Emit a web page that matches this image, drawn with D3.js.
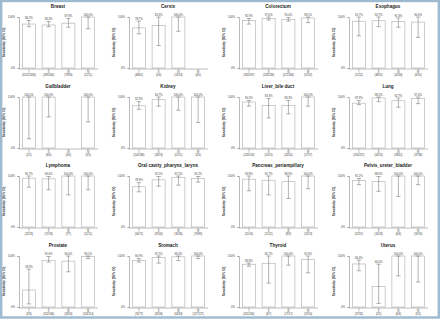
<!DOCTYPE html>
<html>
<head>
<meta charset="utf-8">
<script src="https://cdn.jsdelivr.net/npm/d3@7"></script>
<style>
  body { margin: 0; background: #fff; }
  svg { display: block; font-family: "Liberation Sans", Arial, sans-serif; }
</style>
</head>
<body>
<script>
var W = 440, H = 319;

// panel titles, left to right, top to bottom
var titles = ["Breast", "Cervix", "Colorectum", "Esophagus",
  "Gallbladder", "Kidney", "Liver_bile duct", "Lung",
  "Lymphoma", "Oral cavity_pharynx_larynx", "Pancreas_periampillary", "Pelvis_ureter_bladder",
  "Prostate", "Stomach", "Thyroid", "Uterus"];

var stages = ["I", "II", "III", "IV"];

// sensitivity (%) per stage, null = no cases
var sens = [
  [86.2, 84.4, 87.8, 100.0],
  [78.7, 83.3, 100.0, null],
  [92.9, 97.0, 95.4, 98.1],
  [91.7, 92.7, 91.3, 90.0],
  [100.0, 100.0, null, 100.0],
  [82.8, 94.7, 100.0, 100.0],
  [90.2, 83.3, 83.3, 100.0],
  [87.9, 98.2, 92.7, 97.4],
  [95.7, 94.4, 100.0, 100.0],
  [78.9, 92.5, 97.2, 95.2],
  [93.8, 91.7, 88.9, 100.0],
  [91.2, 88.9, 100.0, 100.0],
  [33.3, 91.6, 90.0, 99.1],
  [90.9, 97.2, 98.4, 100.0],
  [83.8, 85.7, 100.0, 92.9],
  [84.4, 40.0, 100.0, 100.0]
];

// lower 95% CI (%)
var lower = [
  [81, 81, 80, 77],
  [67, 44, 72, null],
  [86, 94, 92, 89],
  [63, 81, 80, 60],
  [18, 61, null, 51],
  [76, 82, 74, 50],
  [82, 59, 67, 82],
  [85, 91, 80, 87],
  [78, 73, 63, 73],
  [69, 80, 82, 88],
  [71, 63, 56, 75],
  [83, 70, 60, 83],
  [6, 88, 69, 95],
  [88, 86, 91, 95],
  [80, 47, 82, 67],
  [71, 7, 61, 49]
];

// upper 95% CI (%)
var upper = [
  [93, 91, 97, 100],
  [92, 100, 100, null],
  [97, 100, 99, 100],
  [100, 100, 98, 100],
  [100, 100, null, 100],
  [91, 100, 100, 100],
  [93, 97, 93, 100],
  [93, 100, 98, 100],
  [100, 99, 100, 100],
  [87, 99, 100, 99],
  [100, 100, 100, 100],
  [95, 99, 100, 100],
  [74, 99, 100, 100],
  [95, 100, 100, 100],
  [86, 100, 100, 100],
  [92, 84, 100, 100]
];

// detected / total per stage
var counts = [
  ["(1152/1336)", "(299/354)", "(79/90)", "(11/11)"],
  ["(48/61)", "(5/6)", "(13/13)", "(0/0)"],
  ["(183/197)", "(226/233)", "(271/284)", "(51/52)"],
  ["(11/12)", "(38/41)", "(42/46)", "(9/10)"],
  ["(2/2)", "(6/6)", "(0/0)", "(5/5)"],
  ["(154/186)", "(18/19)", "(11/11)", "(5/5)"],
  ["(129/143)", "(10/12)", "(20/24)", "(17/17)"],
  ["(226/257)", "(54/55)", "(38/41)", "(37/38)"],
  ["(22/23)", "(17/18)", "(7/7)", "(11/11)"],
  ["(56/71)", "(37/40)", "(35/36)", "(79/83)"],
  ["(15/16)", "(11/12)", "(8/9)", "(13/13)"],
  ["(52/57)", "(16/18)", "(6/6)", "(19/19)"],
  ["(2/6)", "(152/166)", "(18/20)", "(113/114)"],
  ["(70/77)", "(35/36)", "(62/63)", "(127/127)"],
  ["(201/240)", "(6/7)", "(17/17)", "(13/14)"],
  ["(27/32)", "(2/5)", "(6/6)", "(5/5)"]
];

var yTicks = [0, 100];

var svg = d3.select("body").append("svg").attr("width", W).attr("height", H);
svg.append("rect").attr("width", W).attr("height", H).attr("fill", "#fff");

var panelW = 110, panelH = 80;

titles.forEach(function(title, i) {
  var col = i % 4, row = Math.floor(i / 4);
  var x0 = col * panelW, y0 = row * panelH;
  var g = svg.append("g").attr("transform", "translate(" + x0 + "," + y0 + ")");

  var x = d3.scaleBand().domain(stages).range([19, 98]).paddingInner(0.34).paddingOuter(0.17);
  var y = d3.scaleLinear().domain([0, 100]).range([row < 2 ? 68 : 67, row < 2 ? 17 : 16]);

  g.append("text").attr("x", 58).attr("y", y(100) - 9.3)
    .attr("text-anchor", "middle").attr("font-size", 4.6).attr("font-weight", "bold")
    .attr("fill", "#222").text(title);

  g.append("text").attr("transform", "translate(5," + (y(50)) + ") rotate(-90)")
    .attr("text-anchor", "middle").attr("font-size", 3.2).attr("font-weight", "bold")
    .attr("fill", "#333").text("Sensitivity (95% CI)");

  var data = stages.map(function(s, j) {
    return { stage: s, v: sens[i][j], lo: lower[i][j], hi: upper[i][j], n: counts[i][j] };
  });

  // bars
  g.selectAll("rect.bar").data(data.filter(function(d) { return d.v != null; }))
    .enter().append("rect").attr("class", "bar")
    .attr("x", function(d) { return x(d.stage); })
    .attr("width", x.bandwidth())
    .attr("y", function(d) { return y(d.v); })
    .attr("height", function(d) { return y(0) - y(d.v); })
    .attr("fill", "#fff").attr("stroke", "#b8b8b8").attr("stroke-width", 0.7);

  // error bars
  var eb = g.selectAll("g.err").data(data.filter(function(d) { return d.lo != null; }))
    .enter().append("g").attr("class", "err")
    .attr("stroke", "#666").attr("stroke-width", 0.5);
  eb.append("line")
    .attr("x1", function(d) { return x(d.stage) + x.bandwidth() / 2; })
    .attr("x2", function(d) { return x(d.stage) + x.bandwidth() / 2; })
    .attr("y1", function(d) { return y(d.lo); })
    .attr("y2", function(d) { return y(d.hi); });
  ["lo", "hi"].forEach(function(k) {
    eb.append("line")
      .attr("x1", function(d) { return x(d.stage) + x.bandwidth() / 2 - 2.2; })
      .attr("x2", function(d) { return x(d.stage) + x.bandwidth() / 2 + 2.2; })
      .attr("y1", function(d) { return y(d[k]); })
      .attr("y2", function(d) { return y(d[k]); });
  });

  // value labels
  g.selectAll("text.val").data(data.filter(function(d) { return d.v != null; }))
    .enter().append("text").attr("class", "val")
    .attr("x", function(d) { return x(d.stage) + x.bandwidth() / 2; })
    .attr("y", function(d) { return Math.min(y(d.hi), y(d.v)) - 1.2; })
    .attr("text-anchor", "middle").attr("font-size", 2.8).attr("fill", "#444")
    .text(function(d) { return d.v.toFixed(1) + "%"; });

  // axes
  var yAxis = d3.axisLeft(y).tickValues(yTicks).tickSize(1.5).tickFormat(function(d) { return d + "%"; });
  var ya = g.append("g").attr("transform", "translate(19,0)").call(yAxis);
  ya.selectAll("text").attr("font-size", 2.8).attr("fill", "#444").attr("dx", 0.5);
  ya.selectAll("path, line").attr("stroke", "#777").attr("stroke-width", 0.5);

  var xAxis = d3.axisBottom(x).tickSize(1.2).tickFormat("");
  var xa = g.append("g").attr("transform", "translate(0," + (y(0) + 1) + ")").call(xAxis);
  xa.selectAll("path, line").attr("stroke", "#777").attr("stroke-width", 0.5);
  xa.select("path").attr("d", "M19,0H98");

  g.selectAll("text.stage").data(data).enter().append("text")
    .attr("x", function(d) { return x(d.stage) + x.bandwidth() / 2; })
    .attr("y", y(0) + 4.5).attr("text-anchor", "middle")
    .attr("font-size", 2.8).attr("fill", "#333").text(function(d) { return d.stage; });
  g.selectAll("text.cnt").data(data).enter().append("text")
    .attr("x", function(d) { return x(d.stage) + x.bandwidth() / 2; })
    .attr("y", y(0) + 7.6).attr("text-anchor", "middle")
    .attr("font-size", 2.6).attr("fill", "#333").text(function(d) { return d.n; });
});

// outer frame
svg.append("rect").attr("x", 1.2).attr("y", 1).attr("width", W - 2.4).attr("height", H - 2.5)
  .attr("fill", "none").attr("stroke", "#9dbad0").attr("stroke-width", 2.4);
</script>
</body>
</html>
